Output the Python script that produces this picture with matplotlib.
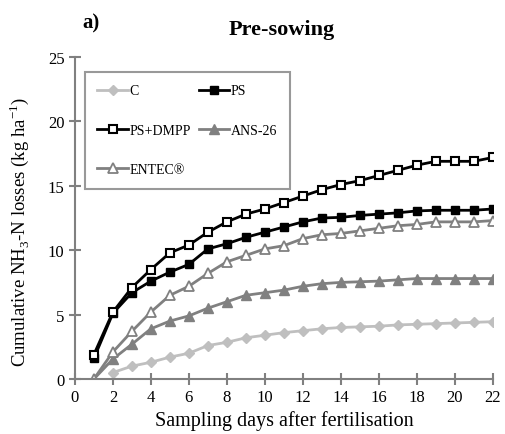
import numpy as np
import matplotlib.pyplot as plt

plt.rcParams['font.family'] = ['Liberation Serif', 'DejaVu Serif']
plt.rcParams['mathtext.fontset'] = 'custom'
plt.rcParams['mathtext.rm'] = 'Liberation Serif'

days = np.arange(1, 23)
c_days = np.arange(2, 23)

c_vals = [0.5, 1.0, 1.3, 1.7, 2.0, 2.6, 2.85, 3.2, 3.4, 3.6, 3.75, 3.9,
          4.0, 4.05, 4.1, 4.2, 4.25, 4.3, 4.35, 4.4, 4.45]
ps_vals = [1.6, 5.1, 6.7, 7.6, 8.3, 8.9, 10.1, 10.5, 11.0, 11.4, 11.8, 12.2,
           12.5, 12.55, 12.7, 12.8, 12.9, 13.05, 13.1, 13.1, 13.1, 13.2]
dmpp_vals = [1.9, 5.2, 7.1, 8.5, 9.8, 10.4, 11.4, 12.2, 12.8, 13.2, 13.7, 14.2,
             14.7, 15.1, 15.4, 15.8, 16.2, 16.6, 16.9, 16.9, 16.9, 17.2]
ans_vals = [0.0, 1.55, 2.7, 3.9, 4.5, 4.9, 5.5, 6.0, 6.5, 6.7, 6.9, 7.2,
            7.4, 7.5, 7.55, 7.6, 7.7, 7.8, 7.8, 7.8, 7.8, 7.8]
entec_vals = [0.0, 2.1, 3.7, 5.2, 6.5, 7.2, 8.2, 9.1, 9.6, 10.1, 10.35, 10.9,
              11.2, 11.3, 11.5, 11.7, 11.9, 12.0, 12.2, 12.2, 12.2, 12.3]

fig = plt.figure(figsize=(5.06, 4.35), dpi=100)
ax = fig.add_axes([0.148, 0.1264, 0.826, 0.7403])

lg = '#bfbfbf'
dg = '#808080'
lw = 2.0
ms = 6

h_c, = ax.plot(c_days, c_vals, color=lg, lw=lw, marker='D', ms=5, mfc=lg, mec=lg, label='C')
h_ps, = ax.plot(days, ps_vals, color='black', lw=lw, marker='s', ms=ms, mfc='black', mec='black', label='PS')
h_dm, = ax.plot(days, dmpp_vals, color='black', lw=lw, marker='s', ms=ms, mfc='white', mec='black', mew=1.5, label='PS+DMPP')
h_an, = ax.plot(days, ans_vals, color=dg, lw=lw, marker='^', ms=7, mfc=dg, mec=dg, label='ANS-26')
h_en, = ax.plot(days, entec_vals, color=dg, lw=lw, marker='^', ms=7, mfc='white', mec=dg, mew=1.3, label='ENTEC®')

ax.set_xlim(0, 22)
ax.set_ylim(0, 25)
ax.set_xticks(np.arange(0, 23, 2))
ax.set_yticks(np.arange(0, 26, 5))
for s in ['top', 'right']:
    ax.spines[s].set_visible(False)
for s in ['left', 'bottom']:
    ax.spines[s].set_color(dg)
    ax.spines[s].set_linewidth(1.5)
ax.tick_params(axis='both', colors=dg, labelcolor='black', labelsize=12, width=1.5,
               direction='inout', length=8)

ax.set_xlabel('Sampling days after fertilisation', fontsize=14.5, labelpad=3)
ax.set_ylabel('Cumulative NH$_3$-N losses (kg ha$^{-1}$)', fontsize=13.5)
ax.yaxis.set_label_coords(-0.105, 0.46)

# row-wise legend order: C, PS / PS+DMPP, ANS-26 / ENTEC
handles = [h_c, h_dm, h_en, h_ps, h_an]
leg = ax.legend(handles=handles, labels=[h.get_label() for h in handles],
                loc='upper left', ncol=2, fontsize=10, frameon=True, fancybox=False,
                bbox_to_anchor=(0.007, 0.975), handlelength=2.2, handletextpad=0.1,
                columnspacing=0.6, labelspacing=1.9, borderpad=0.9)
leg.get_frame().set_edgecolor(dg)
leg.get_frame().set_linewidth(1.5)

fig.text(0.162, 0.935, 'a)', fontsize=15, fontweight='bold')
fig.text(0.556, 0.92, 'Pre-sowing', fontsize=16, fontweight='bold', ha='center')

fig.savefig('out.png', dpi=100)
